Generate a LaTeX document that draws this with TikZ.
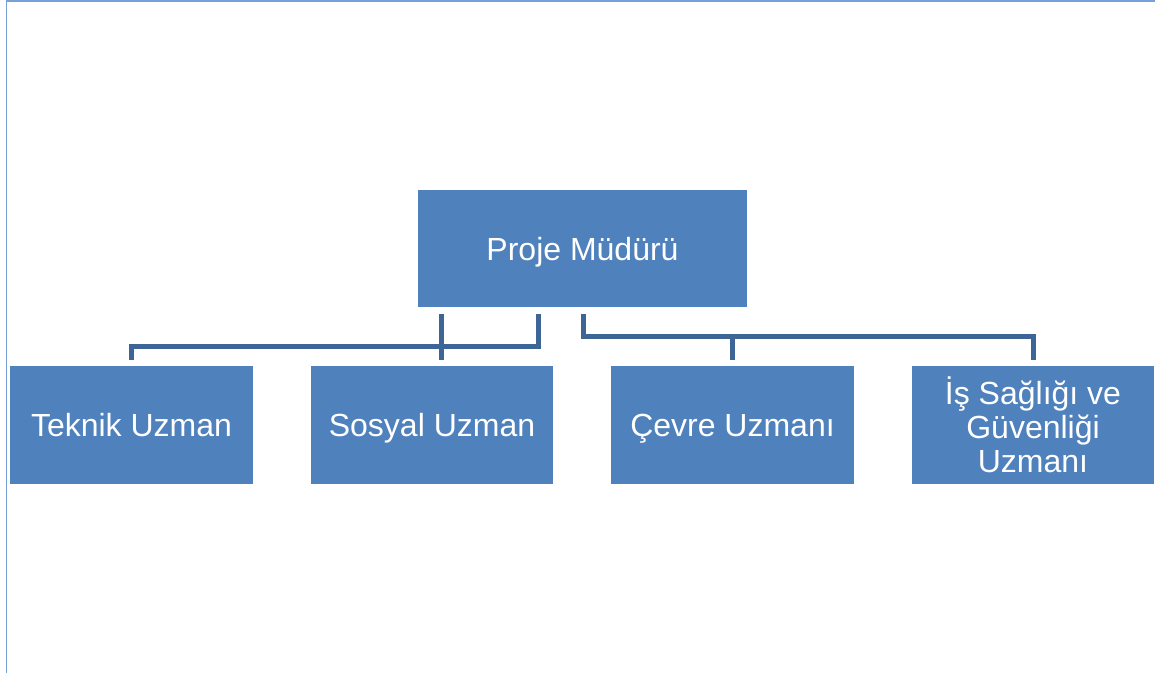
\documentclass[tikz,border=0pt]{standalone}
\usepackage{fontspec}
\setmainfont{Liberation Sans}
\definecolor{boxblue}{HTML}{4F81BD}
\definecolor{connblue}{HTML}{3D6595}
\definecolor{frameblue}{HTML}{76A0D6}
\tikzset{
  orgbase/.style={rectangle, fill=boxblue, draw=none, text=white, inner sep=0pt,
    minimum height=118pt, align=center,
    font=\fontsize{32}{34}\selectfont},
  orgbox/.style={orgbase, text height=23pt, text depth=0pt},
  conn/.style={draw=connblue, line width=5pt, line cap=butt, line join=miter}
}
\begin{document}
\begin{tikzpicture}[x=1pt,y=-1pt]
\useasboundingbox (0,0) rectangle (1155,673);
% frame
\draw[frameblue, line width=1.5pt] (6.5,673) -- (6.5,1) -- (1155,1);
% nodes
\node[orgbox, minimum width=329pt, minimum height=117pt] (boss) at (582.5,248.5) {Proje Müdürü};
\node[orgbox, minimum width=243pt] (t1) at (131.5,425) {Teknik Uzman};
\node[orgbox, minimum width=242pt] (t2) at (432,425) {Sosyal Uzman};
\node[orgbox, minimum width=243pt] (t3) at (732.5,425) {Çevre Uzmanı};
\node[orgbase, minimum width=242pt] (t4) at (1033,425) {İş Sağlığı ve\\Güvenliği\\Uzmanı};
% connectors
\draw[conn] ([xshift=-44.5pt,yshift=-7pt]boss.south) -- ++(0,32) -| ([yshift=6pt]t1.north);
\draw[conn] ([xshift=-141.5pt,yshift=-7pt]boss.south) -- ([xshift=9pt,yshift=6pt]t2.north);
\draw[conn] ([xshift=0.5pt,yshift=-7pt]boss.south) -- ++(0,22) -| ([yshift=6pt]t4.north);
\draw[conn] ([yshift=6pt]t3.north) -- ([yshift=30pt]t3.north);
\end{tikzpicture}
\end{document}
